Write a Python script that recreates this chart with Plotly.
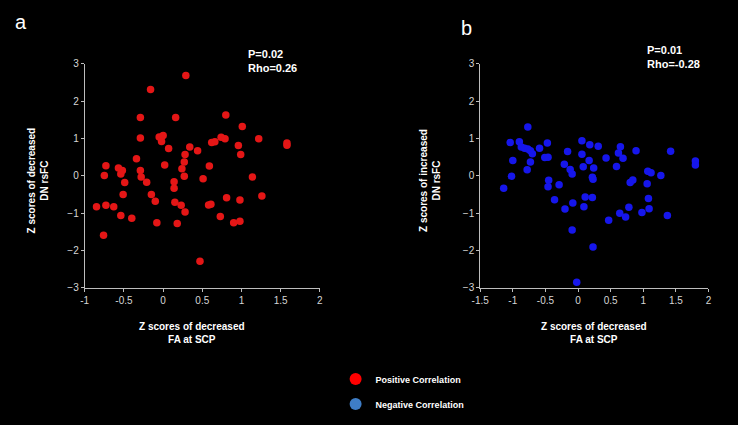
import plotly.graph_objects as go

# Panel a: positive correlation
pos_x = [0.29, -0.16, -0.29, 0.16, 0.80, 1.01, -0.29, -0.05, 0.00, -0.02, 0.07, 0.34, 0.44, 0.62, 0.66,
         0.74, 0.79, 0.96, 0.99, 1.22, 1.58, 1.58, -0.34, -0.73, -0.57, -0.52, -0.54, -0.29, -0.28, -0.75,
         -0.49, -0.21, 0.02, 0.28, 0.27, 0.24, 0.59, 0.27, 0.51, 1.14, 0.14, 0.14, -0.51, -0.15, 1.26,
         0.81, 0.98, -0.10, 0.15, 0.23, 0.58, 0.61, -0.85, -0.73, -0.63, -0.54, -0.40, 0.28, 0.73, -0.08,
         0.18, 0.90, 0.98, -0.76, 0.47]
pos_y = [2.69, 2.31, 1.56, 1.56, 1.63, 1.32, 1.01, 1.04, 1.08, 0.92, 0.73, 0.77, 0.67, 0.89, 0.91,
         1.03, 0.99, 0.81, 0.57, 0.99, 0.88, 0.82, 0.46, 0.27, 0.21, 0.14, 0.05, 0.14, -0.03, 0.01,
         -0.18, -0.17, 0.29, 0.57, 0.37, 0.19, 0.26, -0.01, -0.08, -0.03, -0.16, -0.33, -0.50, -0.50, -0.54,
         -0.59, -0.65, -0.68, -0.71, -0.79, -0.78, -0.76, -0.83, -0.79, -0.83, -1.06, -1.14, -0.97, -1.09, -1.26,
         -1.28, -1.26, -1.22, -1.59, -2.29]

# Panel b: negative correlation
neg_x = [-0.77, -1.04, -0.90, -0.87, -0.82, -0.77, -0.73, -0.70, -0.59, -0.47, -1.00, -0.73, -0.78, -1.02,
         -1.14, -0.51, -0.46, -0.45, -0.46, -0.29, -0.36, -0.21, -0.16, -0.12, -0.09, -0.20, -0.08, -0.09,
         -0.02, 0.06, 0.06, 0.08, 0.17, 0.18, 0.31, 0.24, 0.22, 0.23, 0.11, 0.22, 0.09, 0.43, 0.47, 0.23,
         0.65, 0.62, 0.69, 0.89, 1.42, 1.80, 1.80, 0.59, 1.07, 1.12, 1.27, 0.84, 0.80, 1.06, 1.08, 0.78,
         1.09, 0.98, 0.64, 0.73, 1.37]
neg_y = [1.31, 0.89, 0.91, 0.77, 0.74, 0.72, 0.67, 0.59, 0.74, 0.88, 0.41, 0.37, 0.16, -0.01,
         -0.33, 0.49, 0.50, -0.12, -0.29, -0.24, -0.64, 0.31, 0.65, 0.17, 0.05, -0.89, -0.73, -1.45,
         -2.85, 0.94, 0.58, 0.24, 0.41, 0.83, 0.79, 0.21, -0.04, -0.09, -0.57, -0.58, -0.83, 0.48, -1.19, -1.91,
         0.78, 0.61, 0.47, 0.67, 0.66, 0.40, 0.29, 0.25, 0.12, 0.08, 0.01, -0.11, -0.18, -0.21, -0.61, -0.84,
         -0.88, -0.98, -1.00, -1.10, -1.06]

left_xticks = [-1, -0.5, 0, 0.5, 1, 1.5, 2]
right_xticks = [-1.5, -1, -0.5, 0, 0.5, 1, 1.5, 2]
yticks = [-3, -2, -1, 0, 1, 2, 3]

RED = "rgb(228,22,22)"
BLUE = "rgb(22,22,235)"
LEG_BLUE = "rgb(62,125,198)"
FONT = "Arial, Liberation Sans, sans-serif"

fig = go.Figure()
fig.add_trace(go.Scatter(x=pos_x, y=pos_y, mode="markers", xaxis="x", yaxis="y", showlegend=False,
                         marker=dict(color=RED, size=7.5, line=dict(width=0))))
fig.add_trace(go.Scatter(x=neg_x, y=neg_y, mode="markers", xaxis="x2", yaxis="y2", showlegend=False,
                         marker=dict(color=BLUE, size=7.5, line=dict(width=0))))
# legend entries
fig.add_trace(go.Scatter(x=[None], y=[None], mode="markers", name="Positive Correlation", legendgroup="p",
                         marker=dict(color="rgb(255,0,0)", size=13)))
fig.add_trace(go.Scatter(x=[None], y=[None], mode="markers", name="Negative Correlation", legendgroup="n",
                         marker=dict(color=LEG_BLUE, size=13)))

axis_common = dict(showgrid=False, zeroline=False, showline=True, linecolor="#bdbdbd", linewidth=1,
                   ticks="outside", ticklen=3, tickcolor="#bdbdbd",
                   tickfont=dict(family=FONT, size=10, color="#d6d6d6"))

ydom = [1 - 290 / 425, 1 - 59.5 / 425]
fig.update_layout(
    width=738, height=425,
    paper_bgcolor="black", plot_bgcolor="black",
    margin=dict(l=0, r=0, t=0, b=0),
    xaxis=dict(domain=[77 / 738, 316 / 738], range=[-1, 2], tickvals=left_xticks,
               ticktext=[f"{v:g}" for v in left_xticks], anchor="y", **axis_common),
    yaxis=dict(domain=ydom, range=[-3, 3], tickvals=yticks, anchor="x", **axis_common),
    xaxis2=dict(domain=[479 / 738, 711 / 738], range=[-1.5, 2], tickvals=right_xticks,
                ticktext=[f"{v:g}" for v in right_xticks], anchor="y2", **axis_common),
    yaxis2=dict(domain=ydom, range=[-3, 3], tickvals=yticks, anchor="x2", **axis_common),
    legend=dict(x=332 / 738, y=1 - 369 / 425, xanchor="left", yanchor="top", bgcolor="rgba(0,0,0,0)",
                font=dict(family=FONT, size=9, color="white", weight="bold"), tracegroupgap=6,
                itemsizing="constant"),
    showlegend=True,
)

title_font = dict(family=FONT, size=10, color="white", weight="bold")
stat_font = dict(family=FONT, size=11, color="white", weight="bold")
ann = []
ann.append(dict(text="a", x=12 / 738, y=1 - 16 / 425, xref="paper", yref="paper", showarrow=False,
                font=dict(family=FONT, size=20, color="white"), xanchor="center", yanchor="middle"))
ann.append(dict(text="b", x=465 / 738, y=1 - 23 / 425, xref="paper", yref="paper", showarrow=False,
                font=dict(family=FONT, size=20, color="white"), xanchor="center", yanchor="middle"))
ann.append(dict(text="P=0.02<br>Rho=0.26", x=241 / 738, y=1 - 57 / 425, xref="paper", yref="paper",
                showarrow=False, align="left", xanchor="left", yanchor="middle", font=stat_font))
ann.append(dict(text="P=0.01<br>Rho=-0.28", x=647 / 738, y=1 - 52 / 425, xref="paper", yref="paper",
                showarrow=False, align="left", xanchor="left", yanchor="middle", font=stat_font))
ann.append(dict(text="Z scores of decreased<br>FA at SCP", x=186 / 738, y=1 - 337 / 425, xref="paper",
                yref="paper", showarrow=False, xanchor="center", yanchor="middle", font=title_font))
ann.append(dict(text="Z scores of decreased<br>FA at SCP", x=595 / 738, y=1 - 337 / 425, xref="paper",
                yref="paper", showarrow=False, xanchor="center", yanchor="middle", font=title_font))
ann.append(dict(text="Z scores of decreased<br>DN rsFC", x=29 / 738, y=1 - 180 / 425, xref="paper",
                yref="paper", showarrow=False, textangle=-90, xanchor="center", yanchor="middle",
                font=title_font))
ann.append(dict(text="Z scores of increased<br>DN rsFC", x=428 / 738, y=1 - 180 / 425, xref="paper",
                yref="paper", showarrow=False, textangle=-90, xanchor="center", yanchor="middle",
                font=title_font))
fig.update_layout(annotations=ann)

fig.write_html("out.html", config={"displayModeBar": False},
               post_script="document.body.style.margin='0';document.body.style.background='black';")
